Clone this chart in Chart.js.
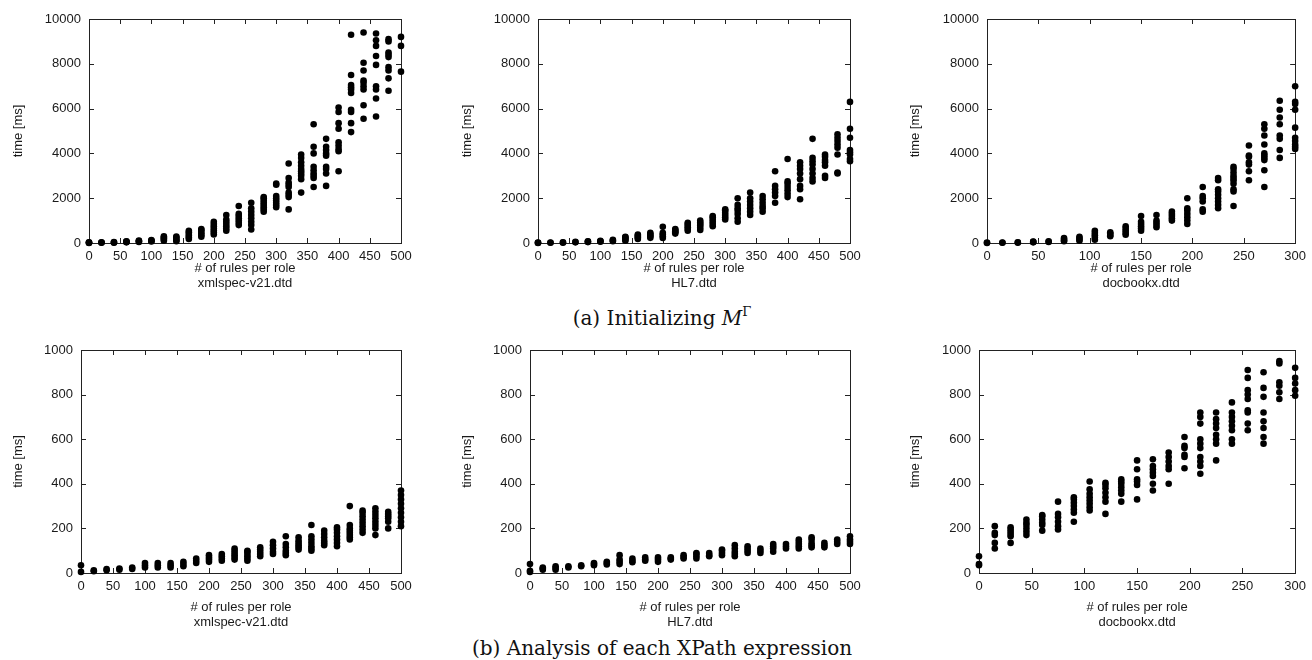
<!DOCTYPE html>
<html>
<head>
<meta charset="utf-8">
<script src="https://cdn.jsdelivr.net/npm/chart.js@4.4.1/dist/chart.umd.min.js"></script>
<style>
    body { margin: 0; background: #fff; width: 1312px; height: 660px; position: relative; overflow: hidden; }
    canvas { position: absolute; }
    .cap { position: absolute; font-family: 'DejaVu Serif', serif; font-size: 20px; color: #111; white-space: nowrap; transform: translate(-50%, -50%); }
    .cap sup { font-size: 13px; vertical-align: 9px; line-height: 0; }
</style>
</head>
<body>
<canvas id="c1" width="420" height="295" style="left:0;top:0"></canvas>
<canvas id="c2" width="420" height="295" style="left:449px;top:0"></canvas>
<canvas id="c3" width="415" height="295" style="left:897px;top:0"></canvas>
<canvas id="c4" width="420" height="304" style="left:0;top:330px"></canvas>
<canvas id="c5" width="420" height="304" style="left:449px;top:330px"></canvas>
<canvas id="c6" width="415" height="304" style="left:897px;top:330px"></canvas>
<div class="cap" style="left:662px;top:318px">(a) Initializing <i>M</i><sup>Γ</sup></div>
<div class="cap" style="left:662px;top:648px">(b) Analysis of each XPath expression</div>
<script>
// x positions (rules per role)
const rules500 = [0, 20, 40, 60, 80, 100, 120, 140, 160, 180, 200, 220, 240, 260, 280, 300, 320, 340, 360, 380, 400, 420, 440, 460, 480, 500];
const rules300 = [0, 15, 30, 45, 60, 75, 90, 105, 120, 135, 150, 165, 180, 195, 210, 225, 240, 255, 270, 285, 300];

// (a) initializing, time [ms], one list per x position
const initXmlspec = [
    [0, 10, 20, 30], [10, 20, 30], [15, 25, 40], [30, 45, 60, 80], [50, 70, 90, 110], [70, 90, 110, 130],
    [100, 150, 200, 250, 300], [80, 120, 180, 240, 290], [180, 250, 320, 400, 480, 550], [280, 350, 420, 500, 580, 620],
    [380, 470, 560, 650, 750, 850, 950], [550, 650, 750, 850, 950, 1050, 1250], [800, 900, 1000, 1100, 1200, 1300, 1650],
    [600, 800, 950, 1100, 1250, 1400, 1550, 1800], [1400, 1500, 1600, 1700, 1800, 1900, 2000, 2050],
    [1600, 1700, 1800, 1900, 2000, 2100, 2600, 2650], [1500, 2050, 2150, 2250, 2500, 2600, 2700, 2900, 3550],
    [2250, 2850, 3000, 3100, 3200, 3300, 3450, 3600, 3800, 3950], [2500, 2900, 3000, 3100, 3250, 3400, 4000, 4300, 5300],
    [2550, 3100, 3300, 3400, 3900, 4000, 4150, 4300, 4650], [3200, 4100, 4200, 4350, 4500, 5100, 5350, 5850, 6050],
    [4950, 5350, 5850, 5950, 6700, 6850, 6950, 7050, 7500, 9300], [5550, 6150, 6850, 7000, 7150, 7250, 7700, 8050, 9400],
    [5650, 6450, 6850, 7000, 7950, 8350, 8800, 9050, 9350], [6800, 7350, 7700, 7850, 8300, 8400, 8500, 9000, 9100],
    [7650, 8800, 9200]
];
const initHL7 = [
    [0, 10, 20], [10, 20], [15, 30], [30, 50], [40, 60, 80], [60, 80, 100], [80, 110, 140],
    [100, 150, 200, 250, 280], [180, 230, 280, 330, 380], [230, 290, 350, 400, 460], [220, 300, 380, 450, 720],
    [420, 480, 530, 580, 620], [550, 620, 700, 770, 850, 900], [580, 680, 780, 850, 920, 1000],
    [750, 850, 950, 1050, 1150, 1200], [1050, 1150, 1250, 1350, 1450, 1500], [950, 1100, 1300, 1450, 1550, 1700, 2000],
    [1250, 1400, 1550, 1700, 1850, 2000, 2250], [1400, 1550, 1650, 1800, 1950, 2100], [1800, 2100, 2250, 2400, 2550, 3200],
    [2050, 2200, 2350, 2500, 2650, 2750, 3750], [1950, 2400, 2550, 2850, 3100, 3300, 3450, 3600],
    [2750, 2900, 3100, 3300, 3500, 3650, 3800, 4650], [2900, 3000, 3450, 3600, 3700, 3850, 3950],
    [3100, 3150, 3950, 4250, 4400, 4550, 4700, 4850], [3650, 3750, 3950, 4050, 4150, 4700, 5100, 6300]
];
const initDocbook = [
    [0, 20], [10, 20], [15, 30], [30, 50, 70], [50, 80], [80, 120, 180, 220], [100, 150, 220, 280],
    [150, 250, 350, 450, 550], [300, 350, 420, 480], [370, 450, 550, 650, 750], [550, 650, 750, 850, 950, 1200],
    [700, 800, 900, 1000, 1250], [1000, 1100, 1200, 1300, 1400], [850, 1000, 1150, 1300, 1450, 1550, 2000],
    [1400, 1500, 1850, 2000, 2100, 2500], [1550, 1700, 1850, 2000, 2150, 2300, 2400, 2800, 2900],
    [1650, 2300, 2400, 2650, 2800, 2900, 3000, 3150, 3300, 3400], [2800, 3200, 3500, 3600, 3850, 3900, 4350],
    [2500, 3250, 3700, 3800, 3900, 4000, 4400, 4800, 5100, 5300], [3800, 4150, 4650, 4800, 5300, 5600, 5950, 6350],
    [4200, 4300, 4400, 4550, 4700, 5150, 5950, 6200, 6300, 7000]
];

// (b) analysis of each XPath expression, time [ms]
const xpathXmlspec = [
    [5, 35], [8, 12], [12, 18], [15, 20], [18, 25], [25, 35, 45], [25, 35, 45], [25, 35, 45], [30, 40, 50],
    [45, 55, 65], [50, 60, 70, 80], [55, 65, 75, 85], [60, 70, 80, 90, 100, 110], [55, 65, 75, 85, 95, 100],
    [75, 85, 95, 105, 115], [85, 95, 110, 125, 140], [80, 90, 100, 115, 130, 165], [105, 115, 125, 135, 145, 160],
    [100, 110, 120, 135, 150, 165, 215], [125, 135, 145, 160, 175, 190], [120, 135, 150, 165, 180, 195, 205],
    [150, 160, 170, 180, 190, 200, 215, 300], [180, 195, 210, 225, 240, 255, 270, 280],
    [170, 200, 215, 230, 245, 260, 275, 290], [200, 230, 245, 255, 265, 275],
    [210, 230, 250, 270, 290, 310, 330, 350, 370]
];
const xpathHL7 = [
    [5, 10, 40], [15, 20, 25], [15, 22, 30], [25, 30], [30, 35], [35, 40, 45], [38, 45, 50], [40, 50, 60, 80],
    [48, 55, 65], [55, 60, 70], [50, 60, 70], [60, 65, 70], [65, 72, 80], [65, 75, 85, 90], [75, 80, 90],
    [80, 90, 100, 105], [75, 85, 95, 110, 125], [90, 100, 110, 120], [90, 100, 110], [95, 110, 120, 130],
    [110, 120, 130], [110, 120, 130, 140, 150], [115, 125, 135, 150, 160], [115, 125, 135], [130, 140, 150],
    [130, 140, 150, 165]
];
const xpathDocbook = [
    [35, 40, 75], [110, 135, 170, 180, 210], [135, 165, 175, 185, 195, 205], [170, 185, 200, 215, 225, 240],
    [190, 215, 225, 240, 255, 260], [195, 210, 230, 250, 265, 320], [230, 270, 285, 300, 315, 330, 340],
    [280, 295, 310, 325, 340, 355, 375, 410], [265, 320, 340, 360, 380, 395, 405], [320, 355, 370, 385, 400, 410, 420],
    [330, 395, 410, 420, 465, 505], [370, 400, 435, 450, 465, 480, 510], [400, 465, 480, 500, 520, 540],
    [470, 520, 530, 560, 570, 610], [445, 480, 500, 520, 560, 580, 600, 670, 700, 720],
    [505, 580, 600, 620, 650, 670, 690, 720], [580, 600, 640, 660, 680, 700, 720, 765],
    [640, 670, 720, 730, 780, 800, 820, 875, 910], [580, 610, 650, 680, 720, 790, 830, 900],
    [780, 810, 840, 855, 940, 950], [795, 820, 850, 875, 920]
];

const fontFam = "'Liberation Sans', Arial, sans-serif";
const textColor = '#1a1a1a';

// рамка и засечки внутрь, как в gnuplot
const framePlugin = {
    id: 'frame',
    beforeDatasetsDraw(chart) {
        const ctx = chart.ctx;
        const a = chart.chartArea;
        const xs = chart.scales.x, ys = chart.scales.y;
        ctx.save();
        ctx.strokeStyle = '#222';
        ctx.lineWidth = 1;
        ctx.strokeRect(Math.round(a.left) + 0.5, Math.round(a.top) + 0.5, Math.round(a.right - a.left), Math.round(a.bottom - a.top));
        ctx.beginPath();
        xs.ticks.forEach(t => {
            let px = Math.round(xs.getPixelForValue(t.value)) + 0.5;
            ctx.moveTo(px, a.bottom); ctx.lineTo(px, a.bottom - 5);
            ctx.moveTo(px, a.top); ctx.lineTo(px, a.top + 5);
        });
        ys.ticks.forEach(t => {
            let py = Math.round(ys.getPixelForValue(t.value)) + 0.5;
            ctx.moveTo(a.left, py); ctx.lineTo(a.left + 5, py);
            ctx.moveTo(a.right, py); ctx.lineTo(a.right - 5, py);
        });
        ctx.stroke();
        ctx.restore();
    }
};

function toPoints(xs, groups) {
    let pts = [];
    groups.forEach((g, i) => g.forEach(v => pts.push({ x: xs[i], y: v })));
    return pts;
}

function makeChart(id, xs, groups, xMax, yMax, yStep, dtd, yWidth, xHeight, pad) {
    const ctx = document.getElementById(id).getContext('2d');
    return new Chart(ctx, {
        type: 'scatter',
        data: {
            datasets: [{
                data: toPoints(xs, groups),
                backgroundColor: '#000',
                borderWidth: 0,
                pointRadius: 3.3,
                clip: false
            }]
        },
        options: {
            responsive: false,
            animation: false,
            layout: { padding: pad },
            plugins: { legend: { display: false }, tooltip: { enabled: false } },
            scales: {
                x: {
                    type: 'linear',
                    min: 0,
                    max: xMax,
                    grid: { display: false, drawTicks: false },
                    border: { display: false },
                    ticks: {
                        stepSize: 50, padding: 6, color: textColor, maxRotation: 0,
                        font: { family: fontFam, size: 13 },
                        callback: v => String(v)
                    },
                    title: {
                        display: true,
                        text: ['# of rules per role', dtd],
                        color: textColor,
                        font: { family: fontFam, size: 13, lineHeight: 1.15 },
                        padding: { top: 4, bottom: 4 }
                    },
                    afterFit: function (scale) { scale.height = xHeight; }
                },
                y: {
                    min: 0,
                    max: yMax,
                    grid: { display: false, drawTicks: false },
                    border: { display: false },
                    ticks: {
                        stepSize: yStep, padding: 8, color: textColor,
                        font: { family: fontFam, size: 13 },
                        callback: v => String(v)
                    },
                    title: {
                        display: true,
                        text: 'time [ms]',
                        color: textColor,
                        font: { family: fontFam, size: 13, lineHeight: 1.15 },
                        padding: { top: 4, bottom: 4 }
                    },
                    afterFit: function (scale) { scale.width = yWidth; }
                }
            }
        },
        plugins: [framePlugin]
    });
}

makeChart('c1', rules500, initXmlspec, 500, 10000, 2000, 'xmlspec-v21.dtd', 82, 52, { left: 7, right: 19, top: 19, bottom: 0 });
makeChart('c2', rules500, initHL7, 500, 10000, 2000, 'HL7.dtd', 82, 52, { left: 7, right: 19, top: 19, bottom: 0 });
makeChart('c3', rules300, initDocbook, 300, 10000, 2000, 'docbookx.dtd', 83, 52, { left: 7, right: 13, top: 19, bottom: 0 });
makeChart('c4', rules500, xpathXmlspec, 500, 1000, 200, 'xmlspec-v21.dtd', 74, 61, { left: 7, right: 19, top: 20, bottom: 0 });
makeChart('c5', rules500, xpathHL7, 500, 1000, 200, 'HL7.dtd', 74, 61, { left: 7, right: 19, top: 20, bottom: 0 });
makeChart('c6', rules300, xpathDocbook, 300, 1000, 200, 'docbookx.dtd', 75, 61, { left: 7, right: 13, top: 20, bottom: 0 });
</script>
</body>
</html>
